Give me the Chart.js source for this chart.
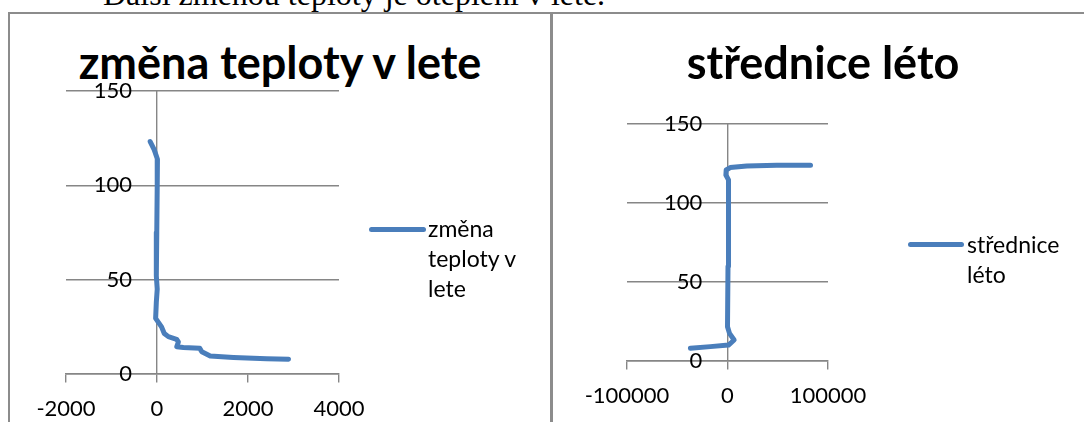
<!DOCTYPE html>
<html lang="cs">
<head>
<meta charset="utf-8">
<title>změna teploty v lete / střednice léto</title>
<script src="https://cdn.jsdelivr.net/npm/chart.js@4.4.1/dist/chart.umd.min.js"></script>
<style>
  html, body { margin: 0; padding: 0; background: #fff; }
  body { width: 1084px; height: 422px; position: relative; overflow: hidden; font-family: Lato, sans-serif; }
  .abs { position: absolute; }
  .intro { left: 103px; top: -22px; font: 32px/1 "Liberation Serif", "Times New Roman", serif; white-space: nowrap; color: #000; }
  .frame { background: #8c8c8c; }
  .title { font: bold 45px/1.2 Lato, sans-serif; text-align: center; white-space: nowrap; color: #000; }
  .legend-line { height: 5px; border-radius: 3px; background: #4a7ebb; }
  .legend-text { font: 23px/30px Lato, sans-serif; color: #000; white-space: nowrap; }
  canvas { position: absolute; }
</style>
</head>
<body>
<div class="abs intro">Další změnou teploty je oteplení v létě.</div>

<!-- rámečky grafů -->
<div class="abs frame" style="left:8px;top:12px;width:2px;height:410px"></div>
<div class="abs frame" style="left:8px;top:12px;width:1076px;height:2px"></div>
<div class="abs frame" style="left:550px;top:12px;width:3px;height:410px"></div>

<!-- levý graf -->
<div class="abs title" style="left:0;top:35px;width:560px">změna teploty v lete</div>
<canvas id="chartLeto" width="539" height="408" style="left:10px;top:14px"></canvas>
<div class="abs legend-line" style="left:369px;top:227px;width:57px"></div>
<div class="abs legend-text" style="left:428px;top:213px">změna<br>teploty v<br>lete</div>

<!-- pravý graf -->
<div class="abs title" style="left:523px;top:35px;width:600px">střednice léto</div>
<canvas id="chartStrednice" width="531" height="408" style="left:553px;top:14px"></canvas>
<div class="abs legend-line" style="left:908px;top:242px;width:56px"></div>
<div class="abs legend-text" style="left:967px;top:229px">střednice<br>léto</div>

<script>
// změna teploty v lete (x, y)
const zmenaX = [-150, -60, 10, 5, -5, -15, 5, -15, -30, 100, 160, 250, 430, 470, 435, 580, 940, 985, 1170, 1680, 2410, 2890];
const zmenaY = [123.2, 118.8, 113.8, 100, 75, 52, 45, 38, 29.5, 25, 21.5, 19.8, 18.4, 17, 14.5, 14.1, 13.6, 11.8, 9.5, 8.8, 8.1, 7.8];

// střednice léto (x, y)
const stredniceX = [-36900, -17100, 1000, 6600, 2000, 0, 500, 1000, -1600, -1300, 2700, 19200, 48900, 82600];
const stredniceY = [8.0, 9.1, 10.1, 13.3, 17.5, 21.7, 60, 114.6, 117.7, 120.9, 122.4, 123.4, 123.9, 123.9];

// osy
const leftXTicks = { min: -2000, max: 4000, step: 2000 };
const rightXTicks = { min: -100000, max: 100000, step: 100000 };
const yTicks = { min: 0, max: 150, step: 50 };

const BLUE = '#4a7ebb';
const GRID = '#868686';

Chart.defaults.font.family = 'Lato, sans-serif';
Chart.defaults.color = '#000';

function makeChart(id, label, xs, ys, xt, labelAt, padding) {
  const points = xs.map((x, i) => ({ x: x, y: ys[i] }));
  return new Chart(document.getElementById(id), {
    type: 'scatter',
    data: {
      datasets: [{
        label: label,
        data: points,
        showLine: true,
        borderColor: BLUE,
        backgroundColor: BLUE,
        borderWidth: 5,
        pointRadius: 0,
        tension: 0,
        borderJoinStyle: 'round',
        borderCapStyle: 'round'
      }]
    },
    options: {
      responsive: false,
      animation: false,
      layout: { padding: padding },
      plugins: {
        legend: { display: false },
        title: { display: false },
        tooltip: { enabled: false }
      },
      scales: {
        x: {
          type: 'linear',
          axis: 'x',
          position: { y: 0 },
          min: xt.min, max: xt.max,
          ticks: { stepSize: xt.step, padding: 14, font: { size: 22 }, color: '#000', maxRotation: 0, callback: v => String(v) },
          grid: {
            color: ctx => (ctx.tick && ctx.tick.value === 0) ? GRID : 'rgba(0,0,0,0)',
            tickColor: GRID,
            tickLength: 8,
            lineWidth: 1.4
          },
          border: { color: GRID, width: 1.4 }
        },
        y: {
          type: 'linear',
          axis: 'y',
          position: { x: labelAt },
          min: yTicks.min, max: yTicks.max,
          ticks: { stepSize: yTicks.step, padding: 0, font: { size: 22 }, color: '#000', callback: v => String(v) },
          grid: { color: GRID, lineWidth: 1.4, drawTicks: false },
          border: { display: false }
        }
      }
    }
  });
}

makeChart('chartLeto', 'změna teploty v lete', zmenaX, zmenaY, leftXTicks, -550,
  { left: 56, right: 210, top: 77, bottom: 48 });
makeChart('chartStrednice', 'střednice léto', stredniceX, stredniceY, rightXTicks, -25000,
  { left: 74, right: 256, top: 110, bottom: 61 });
</script>
</body>
</html>
